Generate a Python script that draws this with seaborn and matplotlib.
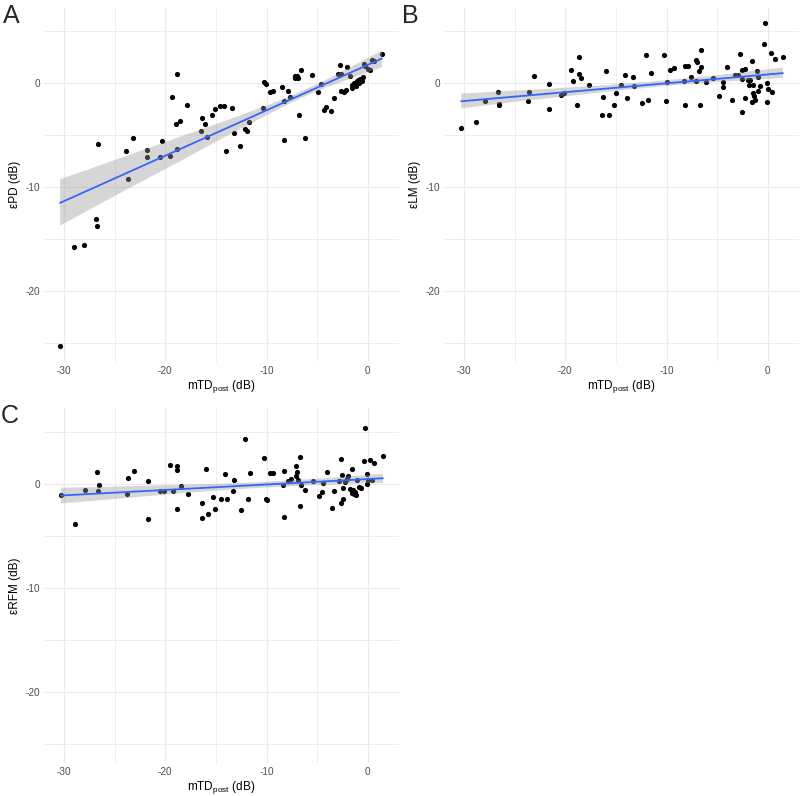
import numpy as np
import pandas as pd
import matplotlib
matplotlib.use("Agg")
import matplotlib.pyplot as plt
from matplotlib.collections import PolyCollection
import seaborn as sns

# values (mTD_post vs. error in dB)
a_x = [-30.4, -29.0, -28.0, -26.85, -26.75, -26.7, -23.85, -23.2, -23.7, -21.8,
       -21.8, -20.3, -20.5, -19.5, -18.85, -19.3, -18.8, -17.85, -18.9, -18.6,
       -16.4, -16.05, -16.5, -15.85, -15.35, -15.1, -14.6, -14.2, -13.4, -13.25,
       -14.0, -12.6, -12.1, -11.9, -11.7, -10.3, -10.2, -10.05, -9.7, -9.4,
       -8.45, -7.9, -7.7, -8.3, -8.3, -6.75, -6.2, -7.17, -7.0, -6.9,
       -7.2, -6.6, -5.5, -4.6, -4.9, -4.3, -4.1, -3.6, -3.35, -2.7,
       -2.0, -2.9, -2.6, -1.7, -2.6, -2.3, -2.1, -1.55, -1.35, -1.1,
       -0.95, -0.8, -0.45, -1.6, -0.4, -0.3, 0.05, 0.25, 0.4, 0.6,
       1.4, -1.2, -0.9, -0.6]
a_y = [-25.3, -15.8, -15.6, -13.1, -13.8, -5.9, -6.6, -5.3, -9.2, -6.5,
       -7.1, -5.6, -7.1, -7.0, -6.35, -1.4, 0.86, -2.1, -4.0, -3.65,
       -3.4, -4.0, -4.6, -5.2, -3.05, -2.5, -2.2, -2.2, -2.4, -4.8,
       -6.6, -6.1, -4.4, -4.6, -3.8, -2.45, 0.1, -0.1, -0.9, -0.75,
       -0.4, -0.8, -1.4, -1.75, -5.5, -3.1, -5.3, 0.63, 0.7, 0.5,
       0.45, 1.2, 0.73, -0.15, -0.9, -2.6, -2.35, -2.7, -1.5, 1.7,
       1.5, 0.9, 0.86, 0.63, -0.76, -0.9, -0.64, -0.48, 0.0, 0.16,
       0.3, 0.4, 0.54, -0.16, 1.85, 1.65, 1.33, 1.27, 2.2, 2.1,
       2.8, -0.3, 0.0, 0.2]

b_x = [-30.3, -28.85, -27.9, -26.7, -26.6, -26.55, -23.7, -23.6, -23.1, -21.65,
       -21.6, -20.4, -20.1, -19.4, -19.2, -18.7, -18.7, -18.45, -18.8, -17.7,
       -16.3, -16.35, -15.7, -15.95, -15.2, -15.0, -14.5, -13.9, -14.1, -13.3,
       -13.2, -12.45, -12.0, -11.8, -11.55, -10.2, -10.05, -10.0, -9.65, -9.3,
       -8.3, -8.2, -8.2, -7.85, -7.6, -7.1, -6.95, -6.6, -6.55, -6.8,
       -7.1, -6.7, -6.1, -5.4, -4.8, -4.45, -4.4, -4.05, -3.55, -3.2,
       -2.9, -2.7, -2.5, -2.5, -2.2, -2.5, -2.25, -1.9, -1.7, -1.85,
       -1.45, -1.6, -1.5, -1.35, -1.25, -1.6, -1.1, -1.0, -0.95, -0.75,
       -0.3, -0.35, -0.05, -0.05, 0.05, 0.4, 0.3, 0.7, 1.5]
b_y = [-4.3, -3.75, -1.75, -0.86, -2.0, -2.1, -1.7, -0.83, 0.67, -0.1,
       -2.5, -1.2, -0.95, 1.24, 0.2, 2.45, 0.9, 0.45, -2.1, -0.2,
       -1.4, -3.1, -3.1, 1.17, -2.1, -1.0, -0.25, -1.5, 0.73, 0.54,
       -0.3, -1.97, 2.67, -1.6, 1.0, 2.67, -1.7, 0.06, 1.24, 1.43,
       0.16, -2.1, 1.6, 1.65, 0.6, 2.2, 1.97, 3.2, 1.5, 1.17,
       0.22, -2.1, 0.1, 0.48, -1.27, 0.1, -0.4, 1.55, -1.6, 0.8,
       0.76, 2.76, -2.76, 1.27, 1.36, 0.38, -1.43, 0.32, 0.32, -0.25,
       -0.25, 2.06, -0.95, -1.27, -1.65, -1.84, 1.1, 0.57, -0.76, -0.32,
       5.75, 3.7, 0.0, -1.8, -0.54, -0.89, 2.9, 2.3, 2.5]

c_x = [-30.35, -28.95, -27.9, -26.75, -26.6, -26.7, -23.8, -23.7, -23.1, -21.75,
       -21.7, -20.5, -20.15, -19.5, -18.8, -18.8, -18.5, -19.2, -18.85, -17.8,
       -16.4, -16.4, -15.8, -16.0, -15.3, -15.05, -14.5, -13.95, -14.15, -13.3,
       -13.2, -12.5, -12.1, -11.85, -11.6, -10.25, -10.1, -10.0, -9.7, -9.35,
       -8.25, -8.25, -8.35, -7.9, -7.6, -7.1, -7.0, -7.1, -6.9, -6.65,
       -6.55, -6.7, -6.15, -5.4, -4.8, -4.5, -4.45, -4.07, -3.5, -3.3,
       -2.65, -2.85, -2.5, -2.46, -2.6, -2.4, -2.2, -1.9, -2.0, -1.55,
       -1.7, -1.5, -1.3, -1.55, -1.2, -1.4, -1.05, -0.9, -0.7, -0.3,
       -0.4, -0.05, -0.05, 0.0, 0.45, 0.27, 0.67, 1.5]
c_y = [-1.03, -3.87, -0.6, 1.15, -0.1, -0.64, -1.0, 0.57, 1.2, 0.29,
       -3.33, -0.7, -0.7, 1.82, 1.75, 1.3, -0.23, -0.7, -2.4, -0.93,
       -1.86, -3.3, -2.94, 1.44, -1.28, -2.37, -1.41, -1.41, 0.92, -0.7,
       0.41, -2.53, 4.34, -1.47, 1.08, 2.46, -1.44, -1.57, 1.05, 1.05,
       -3.17, 1.28, -0.1, 0.25, 0.5, 1.72, 1.1, 0.73, 0.41, 2.55,
       -0.07, -2.08, -0.55, 0.29, -1.19, -0.8, 0.1, 1.11, -2.3, -0.67,
       2.43, 0.31, 0.86, -0.42, -1.82, -1.5, 0.15, 0.73, 0.5, 1.47,
       -0.45, -0.55, -0.8, -0.87, -1.1, -1.0, 0.35, -0.29, -0.38, 5.4,
       2.23, 0.92, 0.0, 0.41, 0.41, 2.33, 2.0, 2.68]

panels = [
    ("A", "εPD (dB)", a_x, a_y),
    ("B", "εLM (dB)", b_x, b_y),
    ("C", "εRFM (dB)", c_x, c_y),
]
xlabel = r"mTD$_{\mathrm{post}}$ (dB)"

sns.set_theme(style="whitegrid")
plt.rcParams["font.family"] = ["Liberation Sans", "DejaVu Sans"]
plt.rcParams["mathtext.fontset"] = "custom"
plt.rcParams["mathtext.rm"] = "Liberation Sans"
plt.rcParams["mathtext.it"] = "Liberation Sans"
plt.rcParams["axes.unicode_minus"] = False

# shared limits with ggplot-style 5% expansion
all_x = np.concatenate([a_x, b_x, c_x])
all_y = np.concatenate([a_y, b_y, c_y])
xr = all_x.max() - all_x.min()
yr = all_y.max() - all_y.min()
xlim = (all_x.min() - 0.05 * xr, all_x.max() + 0.05 * xr)
ylim = (all_y.min() - 0.05 * yr, all_y.max() + 0.05 * yr)

W, H = 800, 796
fig = plt.figure(figsize=(W / 100, H / 100), dpi=100)
# axes boxes in pixels: left, top, right, bottom
boxes = [(44, 7, 399, 362), (444, 7, 799, 362), (44, 408, 399, 763)]
letter_pos = [(3, 23), (402, 23), (1, 423)]

for (tag, ylab, xs, ys), (l, t, r, b), (lx, ly) in zip(panels, boxes, letter_pos):
    ax = fig.add_axes([l / W, 1 - b / H, (r - l) / W, (b - t) / H])
    df = pd.DataFrame({"x": xs, "y": ys})
    sns.scatterplot(data=df, x="x", y="y", color="black", s=14, linewidth=0, ax=ax)
    sns.regplot(data=df, x="x", y="y", scatter=False, color="#3366FF", seed=0, ci=90,
                line_kws={"linewidth": 1.3}, ax=ax)
    for coll in ax.collections:
        if isinstance(coll, PolyCollection):
            coll.set_facecolor("#999999")
            coll.set_alpha(0.4)
            coll.set_edgecolor("none")

    ax.set_xlim(*xlim)
    ax.set_ylim(*ylim)
    ax.set_xticks([-30, -20, -10, 0])
    ax.set_xticks([-25, -15, -5], minor=True)
    ax.set_yticks([-20, -10, 0])
    ax.set_yticks([-25, -15, -5, 5], minor=True)
    ax.grid(which="major", color="#ebebeb", linewidth=0.9)
    ax.grid(which="minor", color="#ebebeb", linewidth=0.6)
    ax.set_facecolor("white")
    for s in ax.spines.values():
        s.set_visible(False)
    ax.tick_params(which="both", length=0, labelsize=7.2, labelcolor="#4d4d4d", pad=3)
    ax.set_xlabel(xlabel, fontsize=8.5, color="black", labelpad=1)
    ax.set_ylabel(ylab, fontsize=8.5, color="black", labelpad=3)
    fig.text(lx / W, 1 - ly / H, tag, fontsize=18, ha="left", va="baseline")

fig.savefig("out.png", dpi=100, facecolor="white")
